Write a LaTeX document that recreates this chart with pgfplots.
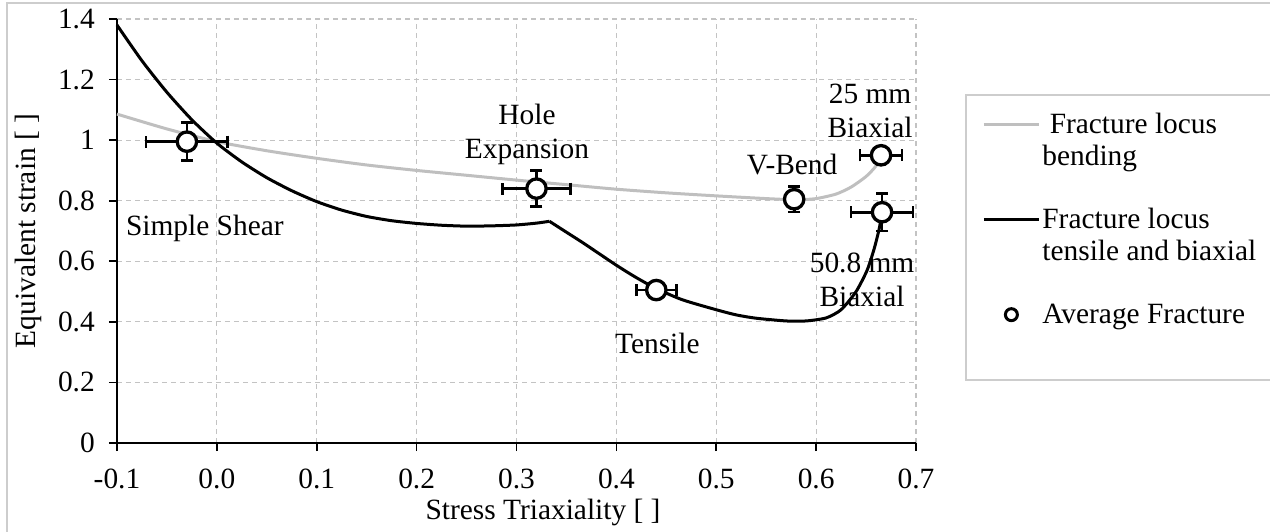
\documentclass[border=0pt]{standalone}
\usepackage{fontspec}
\setmainfont{Liberation Serif}
\usepackage{pgfplots}
\pgfplotsset{compat=1.18}
\definecolor{bendgray}{RGB}{191,191,191}
\definecolor{gridgray}{RGB}{195,195,195}
\definecolor{framegray}{RGB}{205,205,205}
\pgfplotsset{
  mylinelegend/.style={legend image code/.code={\draw[##1] (0pt,4.3pt) -- (27.5pt,4.3pt);}},
  mymarklegend/.style={legend image code/.code={\draw[##1] plot coordinates {(13.75pt,4.3pt)};}},
}
\begin{document}
\fontsize{14.7}{17}\selectfont
\begin{tikzpicture}
\path[use as bounding box] (-58.5pt,-44pt) rectangle (576.5pt,221.5pt);
\draw[framegray, line width=0.8pt] (-55pt,-60pt) -- (-55pt,220pt) -- (620pt,220pt);
\draw[framegray, line width=0.8pt, fill=white] (424.5pt,174pt) rectangle (620pt,31.5pt);
\begin{axis}[
  at={(0pt,0pt)}, anchor=south west,
  scale only axis, width=399.5pt, height=212pt,
  xmin=-0.1, xmax=0.7, ymin=0, ymax=1.4,
  axis x line*=bottom, axis y line*=left,
  axis line style={black, line width=1pt},
  font=\fontsize{14.7}{17}\selectfont,
  xtick={-0.1,0,0.1,0.2,0.3,0.4,0.5,0.6,0.7},
  xticklabels={-0.1,0.0,0.1,0.2,0.3,0.4,0.5,0.6,0.7},
  ytick={0,0.2,0.4,0.6,0.8,1,1.2,1.4},
  yticklabels={0,0.2,0.4,0.6,0.8,1,1.2,1.4},
  tick align=outside, major tick length=4pt,
  tick style={black, line width=0.8pt},
  grid=major,
  major grid style={gridgray, line width=0.6pt, dash pattern=on 2.5pt off 2pt},
  x tick label style={yshift=-4pt},
  y tick label style={xshift=-2pt},
  xlabel={Stress Triaxiality [ ]},
  ylabel={Equivalent strain [ ]},
  xlabel style={at={(axis description cs:0.5332,-0.1650)}, anchor=center},
  ylabel style={at={(axis description cs:-0.1114,0.5)}, anchor=center, rotate=0},
  legend cell align=left,
  legend style={at={(axis description cs:1.0826,0.789)}, anchor=north west,
    draw=none, fill=none, inner sep=0pt, row sep=13.5pt, column sep=0pt,
    font=\fontsize{14.7}{16}\selectfont,
    cells={anchor=base west},
    nodes={inner sep=1pt, text depth=}},
  clip=false,
]
% Fracture locus bending
\addplot[bendgray, line width=1.5pt, smooth, tension=0.4, forget plot] coordinates {
  (-0.1,1.086) (-0.05,1.037) (0,0.995) (0.05,0.965) (0.1,0.940) (0.15,0.918)
  (0.2,0.900) (0.25,0.884) (0.3,0.868) (0.35,0.853) (0.4,0.838) (0.45,0.826)
  (0.5,0.816) (0.55,0.807) (0.58,0.803) (0.6,0.807) (0.62,0.822) (0.635,0.845)
  (0.65,0.880) (0.66,0.915) (0.665,0.950)
};
% Fracture locus tensile and biaxial (shear side)
\addplot[black, line width=1.5pt, smooth, tension=0.4, forget plot] coordinates {
  (-0.1,1.380) (-0.075,1.262) (-0.05,1.158) (-0.025,1.067) (0,0.990)
  (0.025,0.928) (0.05,0.876) (0.075,0.833) (0.1,0.797) (0.125,0.769)
  (0.15,0.748) (0.175,0.734) (0.2,0.725) (0.225,0.719) (0.25,0.716)
  (0.275,0.717) (0.3,0.720) (0.32,0.726) (0.333,0.732)
};
% Fracture locus tensile and biaxial (tensile side)
\addplot[black, line width=1.5pt, smooth, tension=0.4, forget plot] coordinates {
  (0.333,0.732) (0.35,0.696) (0.367,0.660) (0.4,0.587) (0.42,0.546)
  (0.44,0.510) (0.466,0.473) (0.5,0.440) (0.52,0.423) (0.54,0.412)
  (0.57,0.403) (0.59,0.403) (0.61,0.413) (0.625,0.440) (0.64,0.500)
  (0.651,0.570) (0.658,0.640) (0.663,0.705) (0.666,0.760)
};
% Average fracture points with error bars
\addplot[black, only marks, mark=*, mark size=4.85pt,
  mark options={fill=white, draw=black, line width=1.65pt, solid},
  forget plot,
  error bars/.cd, x dir=both, x explicit, y dir=both, y explicit,
  error bar style={line width=1.4pt, black},
  error mark options={rotate=90, mark size=3pt, line width=1.4pt, black}]
coordinates {
  (-0.03,0.995) +- (0.041,0.062)
  (0.32,0.840) +- (0.034,0.060)
  (0.578,0.805) +- (0.0,0.042)
  (0.44,0.505) +- (0.020,0.020)
  (0.665,0.950) +- (0.021,0.020)
  (0.666,0.762) +- (0.031,0.062)
};
% labels
\node at (axis cs:-0.012,0.710) {Simple Shear};
\node[align=center] at (axis cs:0.3105,1.018) {Hole\\Expansion};
\node at (axis cs:0.576,0.918) {V-Bend};
\node at (axis cs:0.441,0.330) {Tensile};
\node[align=center] at (axis cs:0.654,1.096) {25 mm\\Biaxial};
\node[align=center] at (axis cs:0.646,0.538) {50.8 mm\\Biaxial};
% legend
\addlegendimage{mylinelegend, bendgray, line width=1.5pt}
\addlegendentry{\parbox[t]{140pt}{\strut\ Fracture locus\\bending\strut}}
\addlegendimage{mylinelegend, black, line width=1.5pt}
\addlegendentry{\parbox[t]{140pt}{\strut Fracture locus\\tensile and biaxial\strut}}
\addlegendimage{mymarklegend, black, only marks, mark=*, mark size=3pt, mark options={line width=1.5pt, fill=white, draw=black}}
\addlegendentry{\parbox[t]{140pt}{\strut Average Fracture\strut}}
\end{axis}
\end{tikzpicture}
\end{document}
